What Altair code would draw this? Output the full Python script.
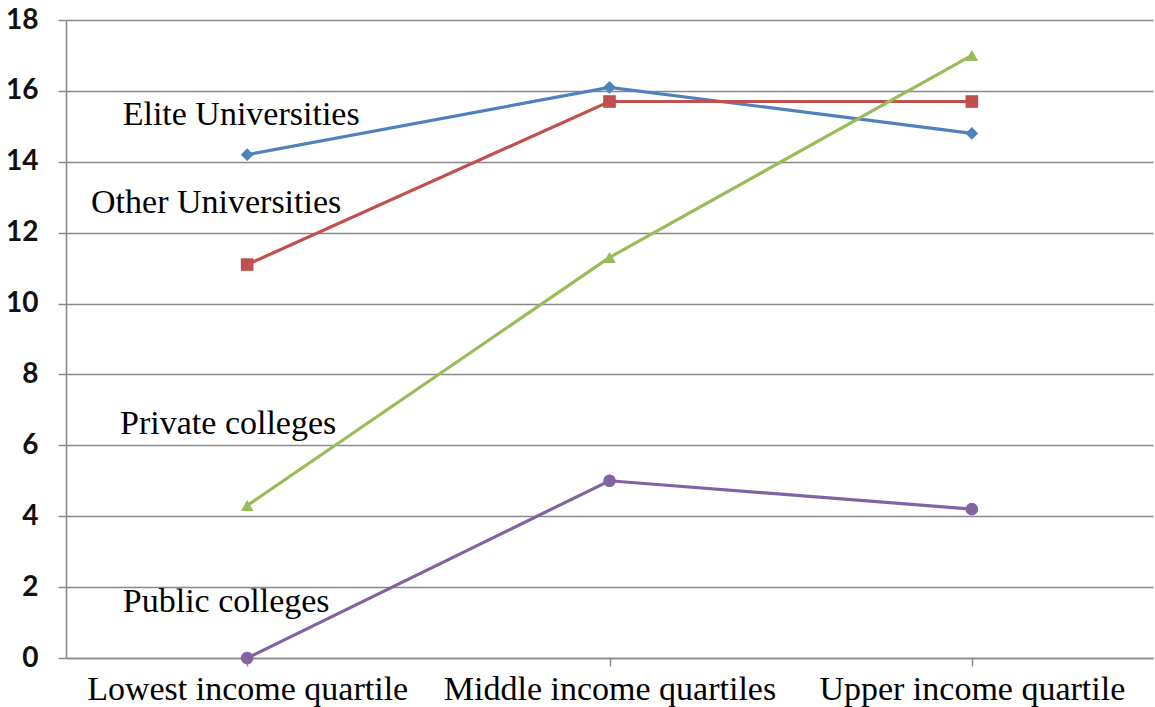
import altair as alt
import pandas as pd

categories = ["Lowest income quartile", "Middle income quartiles", "Upper income quartile"]
series_names = ["Elite Universities", "Other Universities", "Private colleges", "Public colleges"]
elite = [14.2, 16.1, 14.8]
other = [11.1, 15.7, 15.7]
private = [4.3, 11.3, 17.0]
public = [0.0, 5.0, 4.2]
colors = ["#4F81BD", "#C0504D", "#9BBB59", "#8064A2"]
shapes = ["diamond", "square", "triangle-up", "circle"]

label_y = [15.32, 12.84, 6.6, 1.58]
label_dx = [-6, -31, -19, -21]

rows = []
for name, vals in zip(series_names, [elite, other, private, public]):
    for c, v in zip(categories, vals):
        rows.append({"series": name, "category": c, "value": v})
df = pd.DataFrame(rows)

x_enc = alt.X("category:N", sort=categories, title=None,
              scale=alt.Scale(paddingInner=0, paddingOuter=0))
y_enc = alt.Y("value:Q", title=None, scale=alt.Scale(domain=[0, 18], nice=False),
              axis=alt.Axis(values=list(range(0, 19, 2))))
color_enc = alt.Color("series:N", scale=alt.Scale(domain=series_names, range=colors), legend=None)

base = alt.Chart(df)
lines = base.mark_line(strokeWidth=3.2).encode(x=x_enc, y=y_enc, color=color_enc, detail="series:N")
points = base.mark_point(filled=True, opacity=1, size=160).encode(
    x=x_enc,
    y=y_enc,
    color=color_enc,
    shape=alt.Shape("series:N", scale=alt.Scale(domain=series_names, range=shapes), legend=None),
)

layers = [lines, points]
for name, ly, dx in zip(series_names, label_y, label_dx):
    ldf = pd.DataFrame({"category": [categories[0]], "value": [ly], "text": [name]})
    layers.append(alt.Chart(ldf).mark_text(font="Liberation Serif", fontSize=34, color="#000",
                                           dx=dx, align="center", baseline="middle").encode(
        x=x_enc, y=y_enc, text="text:N"))

chart = alt.layer(*layers).properties(
    width=1087, height=638,
    padding={"left": 66, "top": 20, "right": 2, "bottom": 49},
    autosize=alt.AutoSizeParams(type="none"),
).configure_view(stroke=None).configure_axisX(
    labelAngle=0, labelFont="Liberation Serif", labelFontSize=34, labelColor="#000",
    labelPadding=6, labelLimit=0, domainColor="#888", domainWidth=1.5, tickColor="#888",
    tickSize=8, tickWidth=1.5, grid=False,
).configure_axisY(
    labelFont="Lato", labelFontSize=28, labelFontWeight="bold", labelColor="#111",
    labelPadding=20, tickSize=8, tickColor="#888", tickWidth=1.5,
    domainColor="#888", domainWidth=1.5, gridColor="#888", gridWidth=1.5,
)

chart.save("out.html", embed_options={"renderer": "svg", "actions": False})
